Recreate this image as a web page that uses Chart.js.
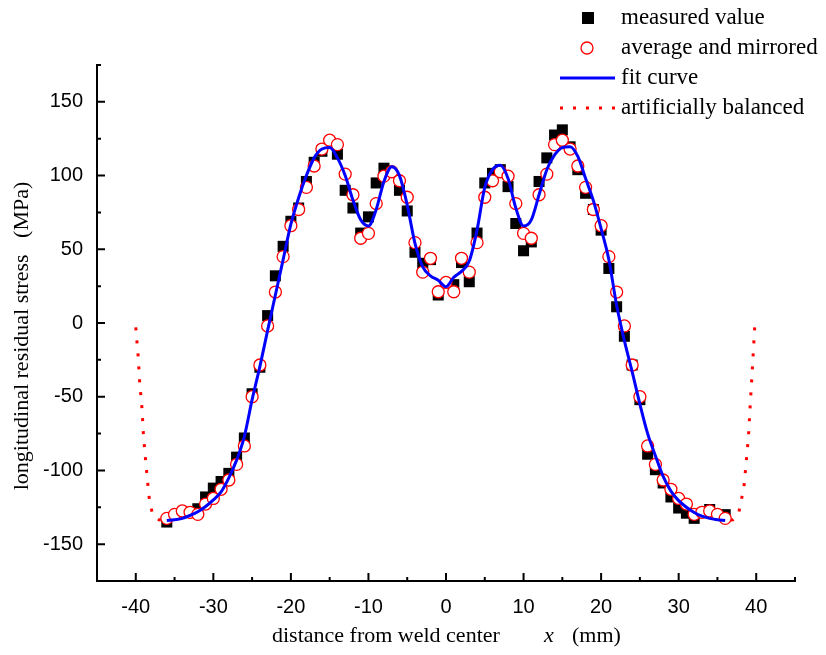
<!DOCTYPE html>
<html>
<head>
<meta charset="utf-8">
<script src="https://cdn.jsdelivr.net/npm/chart.js@4.4.1/dist/chart.umd.min.js"></script>
<style>
  body { margin: 0; background: #fff; }
</style>
</head>
<body>
<canvas id="myChart" width="826" height="655"></canvas>
<script>
// measured value (black squares)
const measuredX = [-36, -32, -31, -30, -29, -28, -27, -26, -25, -24, -23, -22, -21, -20, -19, -18, -17, -16, -14, -13, -12, -11, -10, -9, -8, -6, -5, -4, -3, -2, -1,
  1, 2, 3, 4, 5, 6, 7, 8, 9, 10, 11, 12, 13, 14, 15, 16, 17, 18, 19, 20, 21, 22, 23, 24, 25, 26, 27, 28, 29, 30, 31, 32, 34, 36];
const measuredY = [-135, -126, -118, -112, -107.5, -102, -91, -78, -48, -30, 5, 32, 52, 69, 78, 96, 109, 116.5, 114.5, 90, 78, 61, 72, 95, 105, 90, 76, 48, 40.5, 43, 19,
  26, 41, 28, 61, 95, 101.5, 104, 92.5, 67.5, 49, 55, 96, 112, 127.5, 131, 119.5, 104, 88, 77, 63, 37, 11, -9, -28.5, -52, -89, -99.5, -108.5, -118, -125.5, -129, -132.5, -126.5, -130];

// average and mirrored (red circles)
const averageX = [-36, -35, -34, -33, -32, -31, -30, -29, -28, -27, -26, -25, -24, -23, -22, -21, -20, -19, -18, -17, -16, -15, -14, -13, -12, -11, -10, -9, -8, -7, -6, -5, -4, -3, -2, -1,
  0, 1, 2, 3, 4, 5, 6, 7, 8, 9, 10, 11, 12, 13, 14, 15, 16, 17, 18, 19, 20, 21, 22, 23, 24, 25, 26, 27, 28, 29, 30, 31, 32, 33, 34, 35, 36];
const averageY = [-132.5, -129.8, -127.5, -128.4, -129.8, -122.8, -119, -112.8, -106.5, -95.9, -83.4, -50, -28.5, -2, 21, 45, 66, 77, 92, 106.5, 118, 124, 121, 101, 87, 57.5, 60.8, 81, 99.6, 102.6, 96.5, 85.3, 54.5, 34.5, 43.9, 21.2,
  27.5, 21.2, 43.9, 34.5, 54.5, 85.3, 96.5, 102.6, 99.6, 81, 60.8, 57.5, 87, 101, 121, 124, 118, 106.5, 92, 77, 66, 45, 21, -2, -28.5, -50, -83.4, -95.9, -106.5, -112.8, -119, -122.8, -129.8, -128.4, -127.5, -129.8, -132.5];

// fit curve (blue)
const fitX = [-36, -35, -34, -33, -32, -31, -30, -29, -28, -27, -26, -25, -24, -23, -22, -21, -20, -19, -18, -17, -16, -15, -14, -13, -12, -11, -10, -9, -8, -7, -6, -5, -4, -3, -2, -1,
  0, 1, 2, 3, 4, 5, 6, 7, 8, 9, 10, 11, 12, 13, 14, 15, 16, 17, 18, 19, 20, 21, 22, 23, 24, 25, 26, 27, 28, 29, 30, 31, 32, 33, 34, 35, 36];
const fitY = [-134, -133.5, -132.5, -130.5, -128, -124.5, -120, -114.5, -105, -93, -77, -52, -29.6, -5, 19, 43, 67, 85, 100, 112, 118, 119, 112, 100, 83.4, 70, 65.8, 77, 96, 106, 100, 80, 54, 38, 32, 29,
  24.6, 31, 35, 42, 63, 92, 104, 107, 98, 78, 65.8, 70, 87, 104, 114, 119, 119.6, 113, 98, 83, 64, 43, 12, -12, -33, -55, -75, -90, -104, -114, -120.5, -125, -128.5, -131, -132.5, -133.5, -134];

// artificially balanced (red dotted), left and right ends
const balancedLeftX = [-40, -39.7, -39.5, -39.2, -39.0, -38.7, -38.4, -38.2, -37.8, -37, -36];
const balancedLeftY = [-3, -22, -40, -58, -77, -95, -112, -122, -130, -133.5, -134];
const balancedRightX = [39.8, 39.6, 39.4, 39.2, 39.0, 38.7, 38.4, 38.0, 37.7, 37, 36];
const balancedRightY = [-3, -22, -40, -58, -77, -95, -112, -122, -130, -133.5, -134];

const xTicks = { min: -45, max: 45, step: 5, labelStep: 10 };
const yTicks = { min: -175, max: 175, step: 25, labelStep: 50 };

const toPoints = (xs, ys) => xs.map((x, i) => ({ x: x, y: ys[i] }));

const serif = "'Liberation Serif', 'Times New Roman', serif";
const sans = "'Liberation Sans', Arial, sans-serif";

// Origin style tick marks pointing into the plot
const innerTicks = {
  id: 'innerTicks',
  afterDraw(chart) {
    const ctx = chart.ctx;
    const xs = chart.scales.x, ys = chart.scales.y;
    const area = chart.chartArea;
    ctx.save();
    ctx.strokeStyle = '#000';
    ctx.lineWidth = 2;
    ctx.beginPath();
    xs.ticks.forEach(t => {
      const px = xs.getPixelForValue(t.value);
      const len = t.value % xTicks.labelStep === 0 ? 8 : 4;
      ctx.moveTo(px, area.bottom);
      ctx.lineTo(px, area.bottom - len);
    });
    ys.ticks.forEach(t => {
      const py = ys.getPixelForValue(t.value);
      const len = t.value % yTicks.labelStep === 0 ? 8 : 4;
      ctx.moveTo(area.left, py);
      ctx.lineTo(area.left + len, py);
    });
    ctx.stroke();
    ctx.restore();
  }
};

// axis titles, x title has italic x
const axisTitles = {
  id: 'axisTitles',
  afterDraw(chart) {
    const ctx = chart.ctx;
    ctx.save();
    ctx.fillStyle = '#000';
    ctx.textBaseline = 'middle';
    ctx.font = '22px ' + serif;
    ctx.textAlign = 'left';
    ctx.fillText('distance from weld center', 272, 636);
    ctx.font = 'italic 22px ' + serif;
    ctx.fillText('x', 544, 636);
    ctx.font = '22px ' + serif;
    ctx.fillText('(mm)', 572, 636);

    ctx.translate(22, 336);
    ctx.rotate(-Math.PI / 2);
    ctx.textAlign = 'center';
    ctx.fillText('longitudinal residual stress   (MPa)', 0, 0);
    ctx.restore();
  }
};

// legend in the top right corner
const cornerLegend = {
  id: 'cornerLegend',
  afterDraw(chart) {
    const ctx = chart.ctx;
    const ds = chart.data.datasets;
    const rows = [
      { label: ds[0].label, kind: 'square', y: 18 },
      { label: ds[1].label, kind: 'circle', y: 48 },
      { label: ds[2].label, kind: 'line', y: 78 },
      { label: ds[3].label, kind: 'dots', y: 108 }
    ];
    ctx.save();
    rows.forEach(r => {
      if (r.kind === 'square') {
        ctx.fillStyle = ds[0].backgroundColor;
        ctx.fillRect(582, r.y - 6, 12, 12);
      } else if (r.kind === 'circle') {
        ctx.beginPath();
        ctx.arc(587, r.y, 6, 0, Math.PI * 2);
        ctx.fillStyle = '#fff';
        ctx.fill();
        ctx.lineWidth = ds[1].borderWidth;
        ctx.strokeStyle = ds[1].borderColor;
        ctx.stroke();
      } else {
        const d = r.kind === 'line' ? ds[2] : ds[3];
        ctx.beginPath();
        ctx.setLineDash(d.borderDash || []);
        ctx.lineWidth = d.borderWidth;
        ctx.strokeStyle = d.borderColor;
        ctx.moveTo(560, r.y);
        ctx.lineTo(615, r.y);
        ctx.stroke();
        ctx.setLineDash([]);
      }
      ctx.fillStyle = '#000';
      ctx.font = '23px ' + serif;
      ctx.textAlign = 'left';
      ctx.textBaseline = 'middle';
      ctx.fillText(r.label, 621, r.y);
    });
    ctx.restore();
  }
};

const ctx = document.getElementById('myChart');

new Chart(ctx, {
  type: 'scatter',
  data: {
    datasets: [
      {
        label: 'measured value',
        data: toPoints(measuredX, measuredY),
        pointStyle: 'rect',
        pointRadius: 7.8,
        backgroundColor: '#000',
        borderColor: '#000',
        borderWidth: 0,
        order: 3
      },
      {
        label: 'average and mirrored',
        data: toPoints(averageX, averageY),
        pointStyle: 'circle',
        pointRadius: 6,
        backgroundColor: '#fff',
        borderColor: '#ff0000',
        borderWidth: 1.3,
        order: 2
      },
      {
        label: 'fit curve',
        data: toPoints(fitX, fitY),
        showLine: true,
        pointRadius: 0,
        borderColor: '#0000ff',
        borderWidth: 3,
        cubicInterpolationMode: 'monotone',
        order: 1
      },
      {
        label: 'artificially balanced',
        data: toPoints(balancedLeftX, balancedLeftY),
        showLine: true,
        pointRadius: 0,
        borderColor: '#ff0000',
        borderWidth: 3,
        borderDash: [3, 10],
        order: 4
      },
      {
        label: 'artificially balanced (right)',
        data: toPoints(balancedRightX, balancedRightY),
        showLine: true,
        pointRadius: 0,
        borderColor: '#ff0000',
        borderWidth: 3,
        borderDash: [3, 10],
        order: 4
      }
    ]
  },
  options: {
    responsive: false,
    animation: false,
    layout: { padding: { top: 65, right: 31, left: 0, bottom: 0 } },
    plugins: {
      legend: { display: false },
      tooltip: { enabled: false }
    },
    scales: {
      x: {
        type: 'linear',
        min: xTicks.min,
        max: xTicks.max,
        grid: { display: false },
        border: { display: true, color: '#000', width: 2 },
        ticks: {
          stepSize: xTicks.step,
          autoSkip: false,
          maxRotation: 0,
          padding: 6,
          color: '#000',
          font: { family: sans, size: 20 },
          callback: v => (v % xTicks.labelStep === 0 && Math.abs(v) < 45) ? String(v) : ''
        },
        afterFit: s => { s.height = 74; }
      },
      y: {
        type: 'linear',
        min: yTicks.min,
        max: yTicks.max,
        grid: { display: false },
        border: { display: true, color: '#000', width: 2 },
        ticks: {
          stepSize: yTicks.step,
          autoSkip: false,
          padding: 6,
          color: '#000',
          font: { family: sans, size: 20 },
          callback: v => (v % yTicks.labelStep === 0 && Math.abs(v) < 175) ? String(v) : ''
        },
        afterFit: s => { s.width = 97; }
      }
    }
  },
  plugins: [innerTicks, axisTitles, cornerLegend]
});
</script>
</body>
</html>
